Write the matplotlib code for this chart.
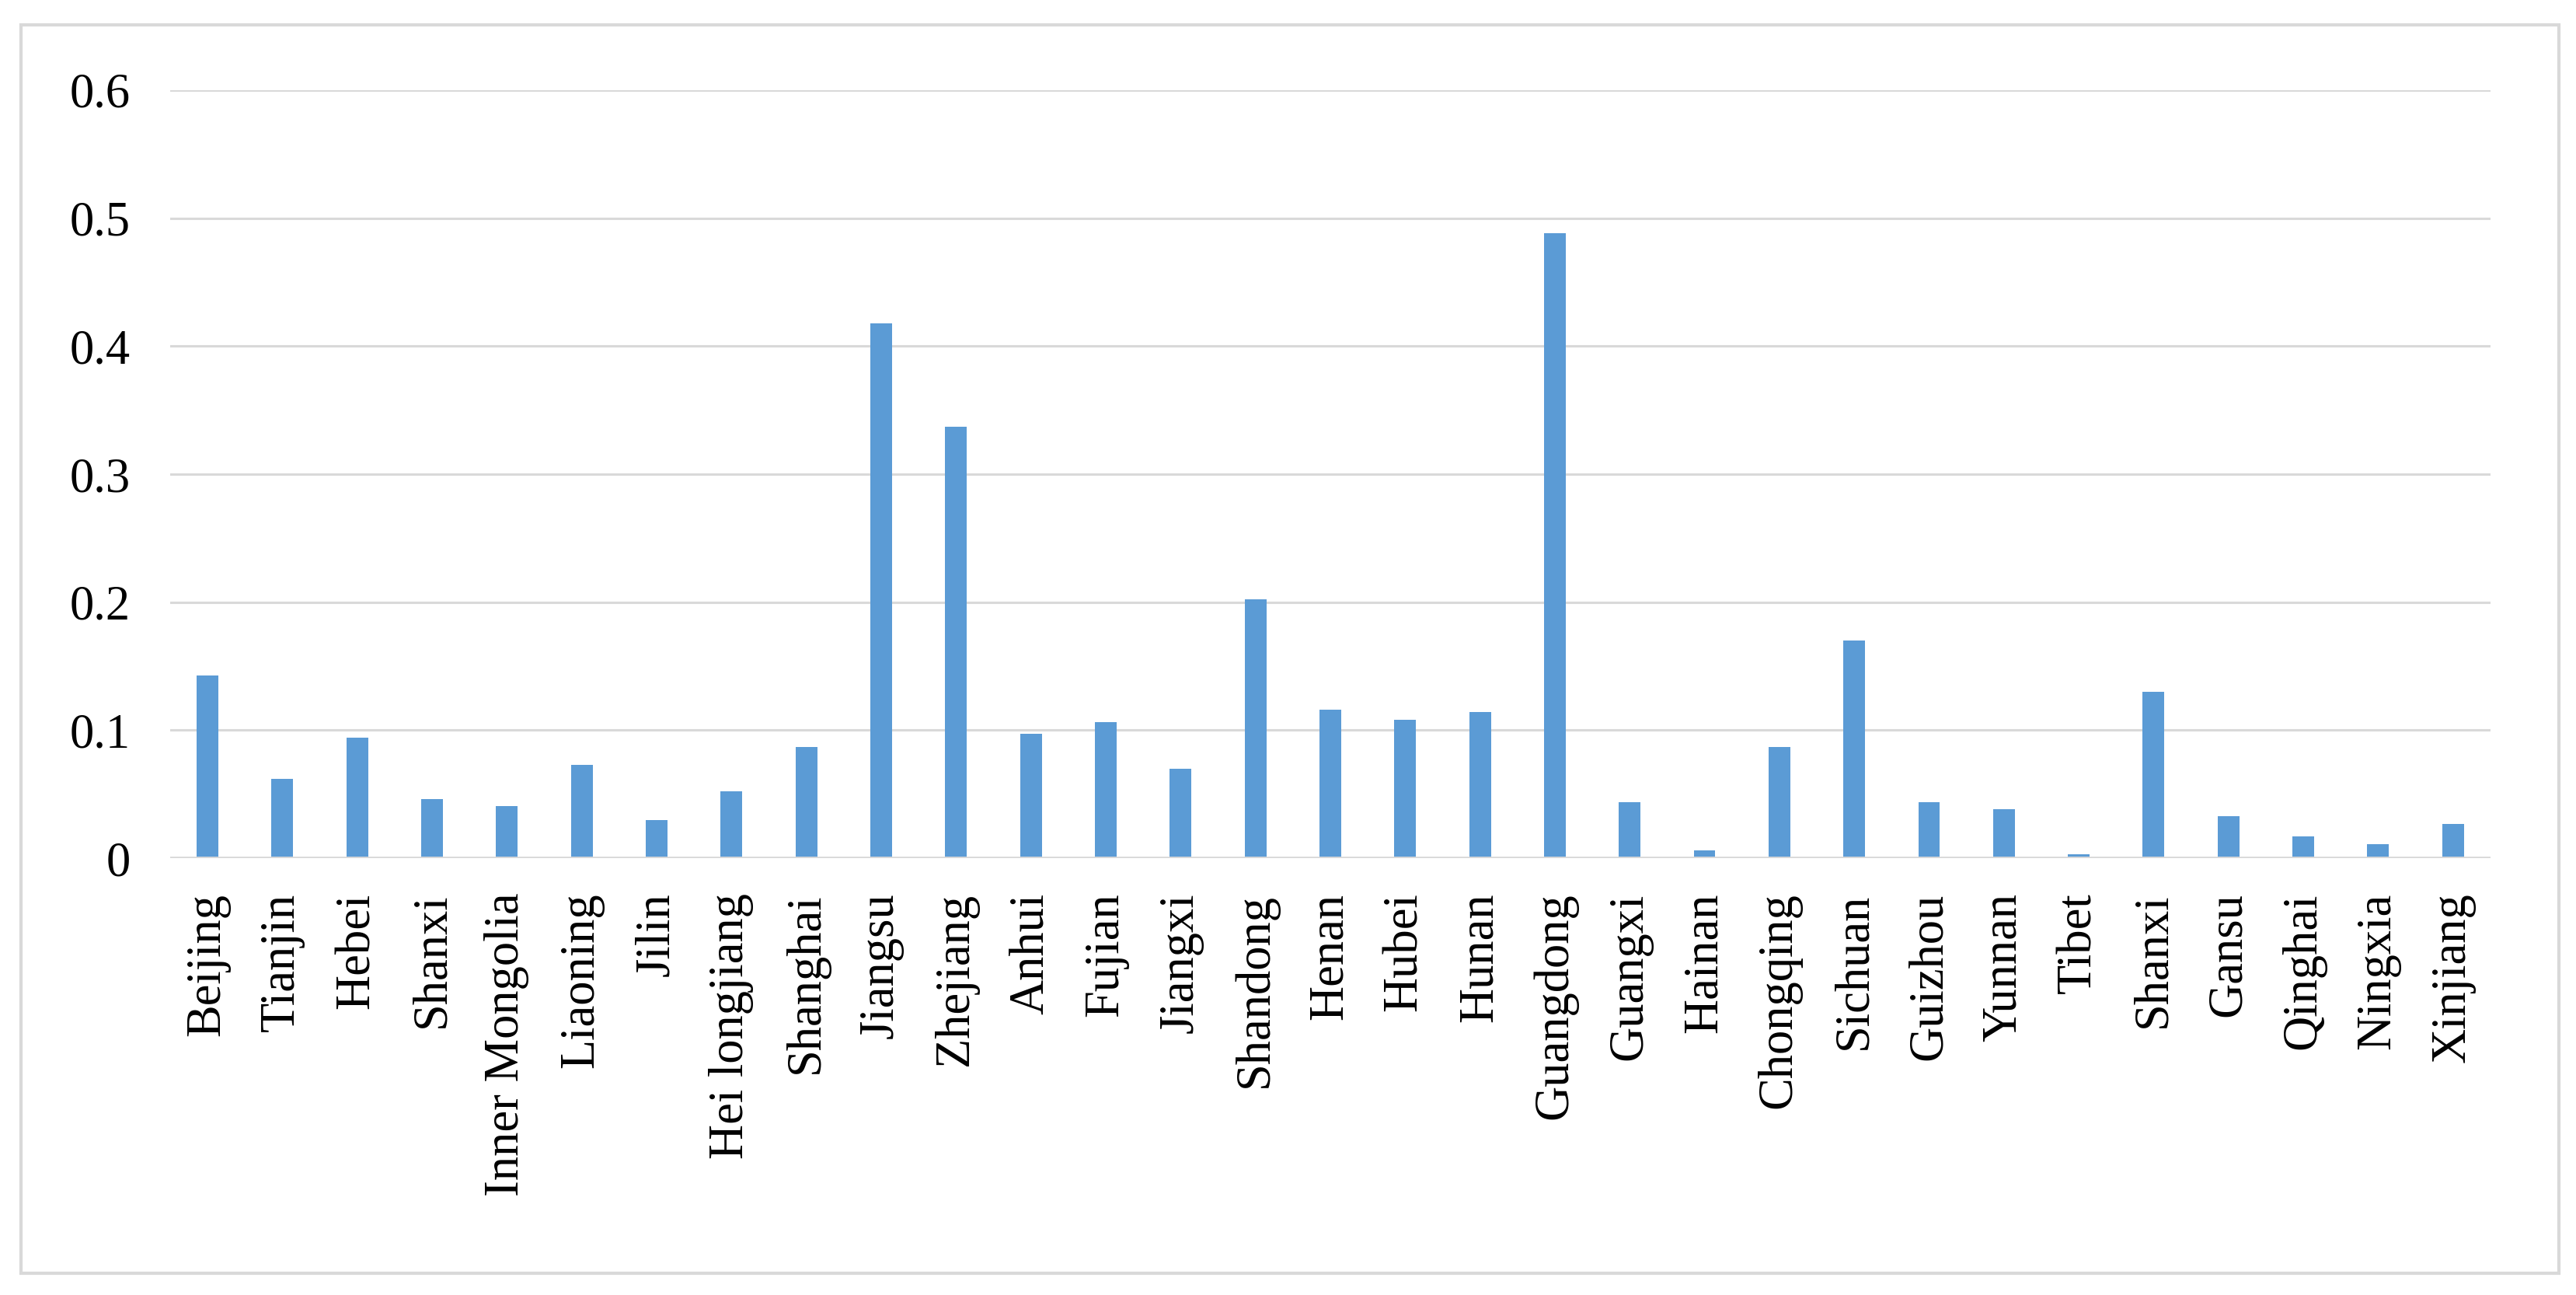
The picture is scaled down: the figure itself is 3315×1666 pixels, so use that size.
import numpy as np
import matplotlib.pyplot as plt
from matplotlib.patches import Rectangle

provinces = ['Beijing', 'Tianjin', 'Hebei', 'Shanxi', 'Inner Mongolia', 'Liaoning', 'Jilin',
             'Hei longjiang', 'Shanghai', 'Jiangsu', 'Zhejiang', 'Anhui', 'Fujian', 'Jiangxi',
             'Shandong', 'Henan', 'Hubei', 'Hunan', 'Guangdong', 'Guangxi', 'Hainan', 'Chongqing',
             'Sichuan', 'Guizhou', 'Yunnan', 'Tibet', 'Shanxi', 'Gansu', 'Qinghai', 'Ningxia',
             'Xinjiang']
values = [0.143, 0.062, 0.094, 0.046, 0.041, 0.073, 0.030,
          0.052, 0.087, 0.418, 0.337, 0.097, 0.106, 0.070,
          0.202, 0.116, 0.108, 0.114, 0.488, 0.044, 0.006, 0.087,
          0.170, 0.044, 0.038, 0.003, 0.130, 0.033, 0.017, 0.011,
          0.027]
yticks = [0, 0.1, 0.2, 0.3, 0.4, 0.5, 0.6]
ylabels = ['0', '0.1', '0.2', '0.3', '0.4', '0.5', '0.6']

plt.rcParams['font.family'] = ['Liberation Serif', 'DejaVu Serif']

fig = plt.figure(figsize=(33.16, 16.66), dpi=100)
ax = fig.add_axes([0.066, 0.3373, 0.9005, 0.5931])

x = np.arange(len(provinces))
ax.bar(x, values, width=0.29, color='#5B9BD5', zorder=3)
ax.set_xlim(-0.5, len(provinces) - 0.5)
ax.set_ylim(0, 0.6)

ax.set_yticks(yticks)
ax.set_yticklabels(ylabels, fontsize=45)
ax.set_xticks(x)
ax.set_xticklabels(provinces, rotation=90, fontsize=45, va='top')
ax.tick_params(axis='y', length=0, pad=37)
ax.tick_params(axis='x', length=0, pad=32)

ax.grid(axis='y', color='#D9D9D9', linewidth=2.2, zorder=0)
ax.axhline(0, color='#D9D9D9', linewidth=3.5, zorder=4)
for s in ax.spines.values():
    s.set_visible(False)

fig.patches.append(Rectangle((27 / 3316, 1 - 1638 / 1666), (3293 - 27) / 3316, (1638 - 32) / 1666,
                             transform=fig.transFigure, fill=False, edgecolor='#D9D9D9',
                             linewidth=3, zorder=0))

fig.savefig('out.png', dpi=100)
